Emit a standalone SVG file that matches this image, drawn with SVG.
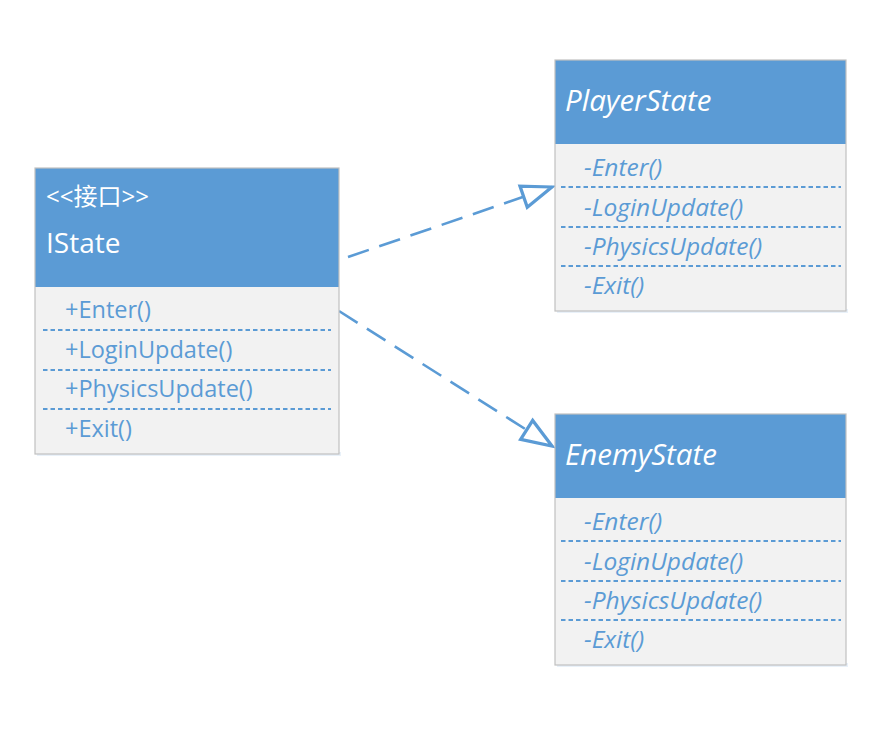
<svg xmlns="http://www.w3.org/2000/svg" width="891" height="731" viewBox="0 0 891 731">
<style>
.hdr{fill:#5b9bd5;}
.body{fill:#f2f2f2;}
.frame{fill:none;stroke:#c0c0c0;stroke-width:1.2;}
.sep{stroke:#5b9bd5;stroke-width:2;stroke-dasharray:4.5,3;}
.t{font-family:"Open Sans","Noto Sans","Noto Sans CJK SC",sans-serif;}
.title{fill:#ffffff;font-size:28px;}
.stereo{fill:#ffffff;font-size:24px;}
.m{fill:#5b9bd5;font-size:23.5px;}
.it{font-style:italic;}
.m.it{font-size:24.5px;}
.title.it{font-size:29.5px;}
.conn{fill:none;stroke:#5b9bd5;stroke-width:2.6;stroke-dasharray:22,11;}
.shadow{fill:#dbe8f5;}
</style>
<defs>
<marker id="tri" markerUnits="userSpaceOnUse" markerWidth="40" markerHeight="30" viewBox="-2 -12 30 24" refX="25" refY="0" orient="auto">
<path d="M25,0 L1,-9 L1,9 Z" fill="#ffffff" stroke="#5b9bd5" stroke-width="2.6" stroke-linejoin="miter"/>
</marker>
</defs>
<rect width="891" height="731" fill="#ffffff"/>
<g id="connectors">
<line class="conn" x1="348" y1="257" x2="552" y2="187" marker-end="url(#tri)"/>
<line class="conn" x1="339" y1="311" x2="552" y2="446" marker-end="url(#tri)"/>
</g>
<g id="IState">
<rect class="shadow" x="37" y="452" width="304" height="4" opacity="0.6"/>
<rect class="hdr" x="35" y="168" width="304" height="119"/>
<rect class="body" x="35" y="287" width="304" height="167"/>
<rect class="frame" x="35" y="168" width="304" height="286"/>
<line class="sep" x1="43" y1="330" x2="331" y2="330"/>
<line class="sep" x1="43" y1="370" x2="331" y2="370"/>
<line class="sep" x1="43" y1="409" x2="331" y2="409"/>
<text class="t stereo" x="46" y="205">&lt;&lt;接口&gt;&gt;</text>
<text class="t title" x="46" y="253">IState</text>
<text class="t m" x="65" y="318">+Enter()</text>
<text class="t m" x="65" y="358">+LoginUpdate()</text>
<text class="t m" x="65" y="397">+PhysicsUpdate()</text>
<text class="t m" x="65" y="437">+Exit()</text>
</g>
<g id="PlayerState">
<rect class="shadow" x="557" y="309" width="291" height="4" opacity="0.6"/>
<rect class="hdr" x="555" y="60" width="291" height="84"/>
<rect class="body" x="555" y="144" width="291" height="167"/>
<rect class="frame" x="555" y="60" width="291" height="251"/>
<line class="sep" x1="561" y1="187" x2="841" y2="187"/>
<line class="sep" x1="561" y1="227" x2="841" y2="227"/>
<line class="sep" x1="561" y1="266" x2="841" y2="266"/>
<text class="t title it" x="565" y="111">PlayerState</text>
<text class="t m it" x="584" y="176">-Enter()</text>
<text class="t m it" x="584" y="216">-LoginUpdate()</text>
<text class="t m it" x="584" y="255">-PhysicsUpdate()</text>
<text class="t m it" x="584" y="294">-Exit()</text>
</g>
<g id="EnemyState">
<rect class="shadow" x="557" y="663" width="291" height="4" opacity="0.6"/>
<rect class="hdr" x="555" y="414" width="291" height="84"/>
<rect class="body" x="555" y="498" width="291" height="167"/>
<rect class="frame" x="555" y="414" width="291" height="251"/>
<line class="sep" x1="561" y1="541" x2="841" y2="541"/>
<line class="sep" x1="561" y1="581" x2="841" y2="581"/>
<line class="sep" x1="561" y1="620" x2="841" y2="620"/>
<text class="t title it" x="565" y="465">EnemyState</text>
<text class="t m it" x="584" y="530">-Enter()</text>
<text class="t m it" x="584" y="570">-LoginUpdate()</text>
<text class="t m it" x="584" y="609">-PhysicsUpdate()</text>
<text class="t m it" x="584" y="648">-Exit()</text>
</g>
</svg>
